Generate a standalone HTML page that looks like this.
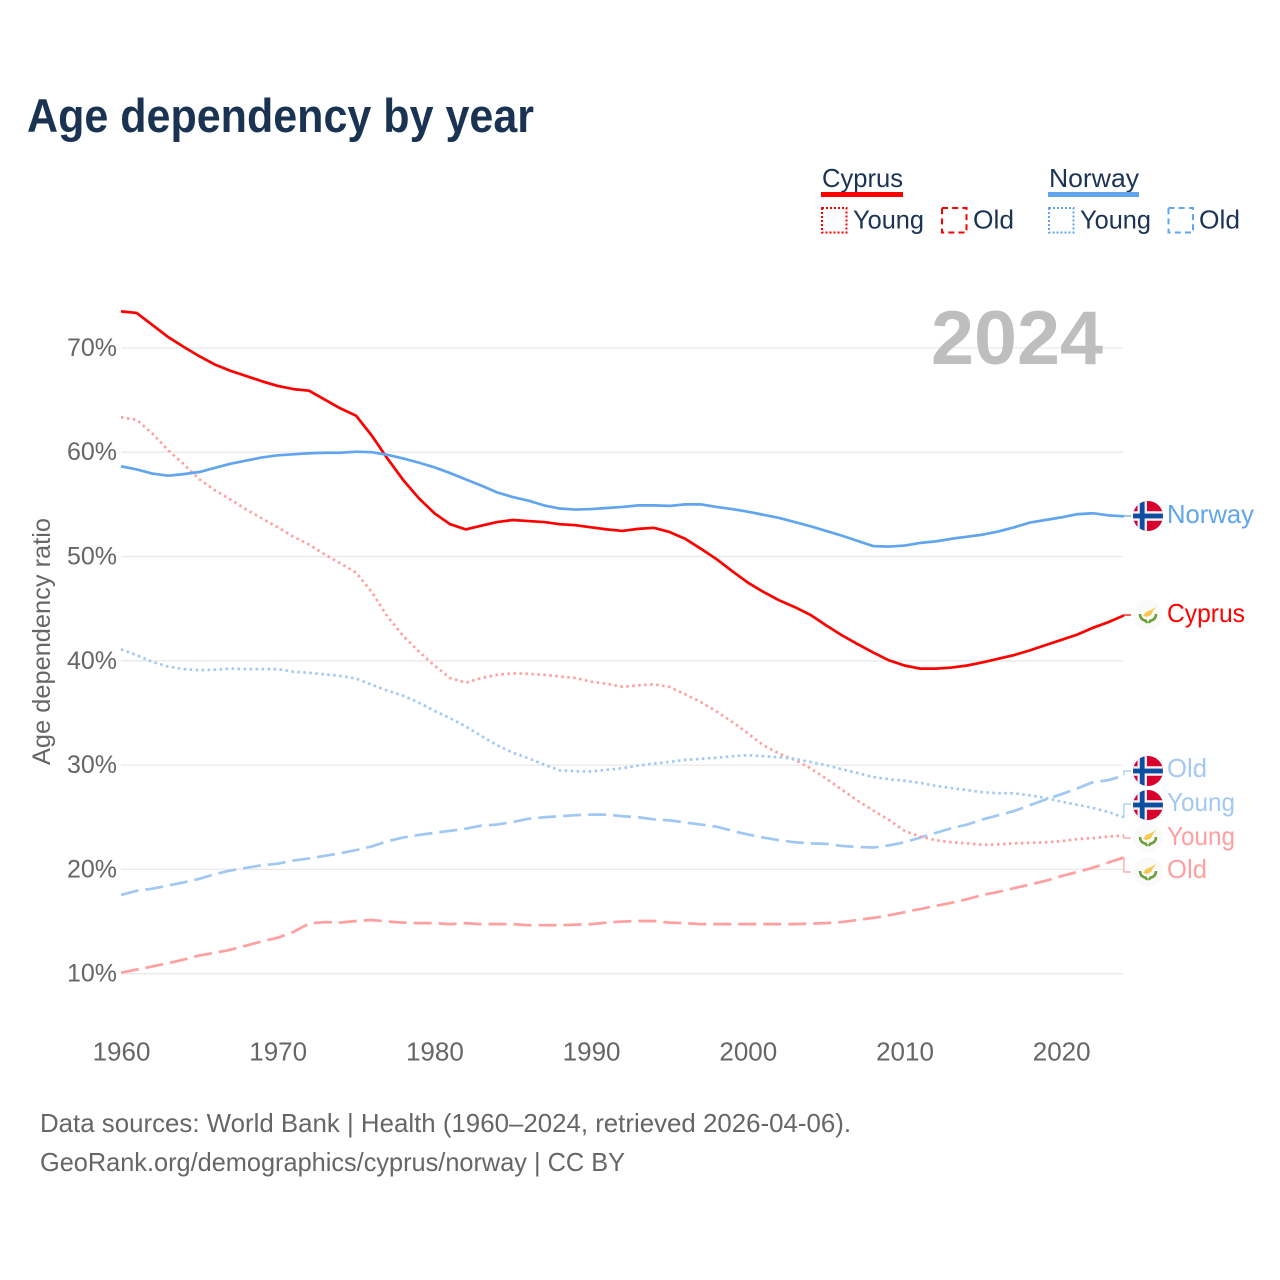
<!DOCTYPE html>
<html lang="en">
<head>
<meta charset="utf-8">
<title>Age dependency by year</title>
<style>
html,body{margin:0;padding:0;background:#fff;}
svg{display:block;font-family:"Liberation Sans",sans-serif;}
.tick{fill:#666;}
.legend-text{fill:#1b3454;font-size:26px;}
</style>
</head>
<body>
<svg id="chart" width="1280" height="1280" viewBox="0 0 1280 1280" xmlns="http://www.w3.org/2000/svg">
<defs>
<clipPath id="flag-clip"><circle cx="0" cy="0" r="15"/></clipPath>
<g id="flag-no">
<g clip-path="url(#flag-clip)">
<rect x="-15" y="-15" width="30" height="30" fill="#d8002c"/>
<rect x="-10.5" y="-15" width="9.5" height="30" fill="#f4eef0"/>
<rect x="-15" y="-4.8" width="30" height="9.6" fill="#f4eef0"/>
<rect x="-8.2" y="-15" width="4.8" height="30" fill="#0b4ea2"/>
<rect x="-15" y="-2.4" width="30" height="4.8" fill="#0b4ea2"/>
</g>
</g>
<g id="flag-cy">
<circle cx="0" cy="0" r="15" fill="#fafafa"/>
<polygon points="-5,1 -2,-3 3,-5 8,-8 5,-4 3,0 -1,2" fill="#f5c94f"/>
<path d="M-8,-1 Q-8,5 -1,6 M8,-1 Q8,5 1,6 M-1,6 L-2,8 M1,6 L2,8" fill="none" stroke="#6c9e3c" stroke-width="2.6"/>
</g>
</defs>

<text x="27" y="132" font-size="47" font-weight="700" fill="#1a3353" textLength="507" lengthAdjust="spacingAndGlyphs">Age dependency by year</text>

<g>
<text class="legend-text" x="822" y="187" textLength="81" lengthAdjust="spacingAndGlyphs">Cyprus</text>
<rect x="821" y="192" width="82" height="5" fill="#ff0000"/>
<rect x="822" y="208" width="24.5" height="24.5" fill="none" stroke="#ff0000" stroke-width="2" stroke-dasharray="2 2"/>
<text class="legend-text" x="853" y="228.5" textLength="71" lengthAdjust="spacingAndGlyphs">Young</text>
<rect x="942" y="208" width="24.5" height="24.5" fill="none" stroke="#ff0000" stroke-width="2" stroke-dasharray="6 4.2"/>
<text class="legend-text" x="973" y="228.5" textLength="41" lengthAdjust="spacingAndGlyphs">Old</text>

<text class="legend-text" x="1049" y="187" textLength="90" lengthAdjust="spacingAndGlyphs">Norway</text>
<rect x="1048" y="192" width="91" height="5" fill="#60a5ee"/>
<rect x="1049" y="208" width="24.5" height="24.5" fill="none" stroke="#60a5ee" stroke-width="2" stroke-dasharray="2 2"/>
<text class="legend-text" x="1080" y="228.5" textLength="71" lengthAdjust="spacingAndGlyphs">Young</text>
<rect x="1168.5" y="208" width="24.5" height="24.5" fill="none" stroke="#60a5ee" stroke-width="2" stroke-dasharray="6 4.2"/>
<text class="legend-text" x="1199" y="228.5" textLength="41" lengthAdjust="spacingAndGlyphs">Old</text>
</g>

<g id="grid"></g>
<g id="y-axis"></g>
<g id="x-axis"></g>

<text x="50" y="765" transform="rotate(-90 50 765)" font-size="25" fill="#666" textLength="247" lengthAdjust="spacingAndGlyphs">Age dependency ratio</text>

<text x="931" y="364" font-size="76" font-weight="700" fill="#bebebe" textLength="172" lengthAdjust="spacingAndGlyphs">2024</text>

<g id="series"></g>

<g>
<use href="#flag-no" x="1148" y="516"/>
<text x="1167" y="523" font-size="26" fill="#60a5ee" textLength="87" lengthAdjust="spacingAndGlyphs">Norway</text>
<use href="#flag-cy" x="1148" y="615"/>
<text x="1167" y="622" font-size="26" fill="#ff0000" textLength="78" lengthAdjust="spacingAndGlyphs">Cyprus</text>
<use href="#flag-no" x="1148" y="771"/>
<text x="1167" y="777" font-size="26" fill="#a3c9f2" textLength="40" lengthAdjust="spacingAndGlyphs">Old</text>
<use href="#flag-no" x="1148" y="805"/>
<text x="1167" y="811" font-size="26" fill="#a3c9f2" textLength="68" lengthAdjust="spacingAndGlyphs">Young</text>
<use href="#flag-cy" x="1148" y="838"/>
<text x="1167" y="845" font-size="26" fill="#ff9f9f" textLength="68" lengthAdjust="spacingAndGlyphs">Young</text>
<use href="#flag-cy" x="1148" y="872"/>
<text x="1167" y="878" font-size="26" fill="#ff9f9f" textLength="40" lengthAdjust="spacingAndGlyphs">Old</text>
</g>

<text x="40" y="1132" font-size="26" fill="#666" textLength="811" lengthAdjust="spacingAndGlyphs">Data sources: World Bank | Health (1960–2024, retrieved 2026-04-06).</text>
<text x="40" y="1171" font-size="26" fill="#666" textLength="585" lengthAdjust="spacingAndGlyphs">GeoRank.org/demographics/cyprus/norway | CC BY</text>

<script>
var years = [1960,1961,1962,1963,1964,1965,1966,1967,1968,1969,1970,1971,1972,1973,1974,1975,1976,1977,1978,1979,1980,1981,1982,1983,1984,1985,1986,1987,1988,1989,1990,1991,1992,1993,1994,1995,1996,1997,1998,1999,2000,2001,2002,2003,2004,2005,2006,2007,2008,2009,2010,2011,2012,2013,2014,2015,2016,2017,2018,2019,2020,2021,2022,2023,2024];
var cyprusTotal = [73.5,73.35,72.2,71.05,70.1,69.2,68.4,67.8,67.3,66.8,66.35,66.05,65.9,65.05,64.2,63.5,61.6,59.4,57.35,55.6,54.15,53.1,52.6,52.95,53.3,53.5,53.4,53.3,53.1,53.0,52.8,52.6,52.45,52.65,52.75,52.35,51.7,50.75,49.75,48.6,47.5,46.6,45.8,45.15,44.4,43.4,42.45,41.6,40.8,40.05,39.55,39.25,39.25,39.35,39.55,39.85,40.2,40.55,41.0,41.5,42.0,42.5,43.15,43.7,44.35];
var cyprusYoung = [63.35,63.1,61.8,60.2,58.85,57.4,56.35,55.45,54.5,53.65,52.8,51.9,51.15,50.2,49.35,48.45,46.6,44.25,42.4,40.9,39.55,38.35,37.9,38.35,38.65,38.8,38.75,38.65,38.5,38.35,38.0,37.8,37.5,37.65,37.75,37.5,36.8,36.05,35.15,34.15,33.05,31.9,31.1,30.5,29.7,28.7,27.65,26.6,25.65,24.75,23.7,23.15,22.8,22.6,22.5,22.35,22.4,22.5,22.55,22.6,22.7,22.9,23.0,23.15,23.25];
var cyprusOld = [10.1,10.4,10.7,11.0,11.35,11.75,12.0,12.3,12.7,13.1,13.45,14.0,14.8,14.95,14.9,15.05,15.15,15.0,14.9,14.85,14.85,14.75,14.85,14.75,14.75,14.75,14.65,14.65,14.65,14.7,14.75,14.9,15.0,15.05,15.05,14.9,14.85,14.75,14.75,14.75,14.75,14.75,14.75,14.75,14.8,14.85,14.95,15.15,15.35,15.6,15.9,16.2,16.5,16.8,17.15,17.55,17.85,18.2,18.55,18.9,19.35,19.75,20.15,20.65,21.15];
var norwayTotal = [58.65,58.35,57.95,57.75,57.9,58.1,58.5,58.9,59.2,59.5,59.7,59.8,59.9,59.95,59.95,60.05,60.0,59.75,59.4,59.0,58.55,58.0,57.4,56.8,56.15,55.7,55.35,54.9,54.6,54.5,54.55,54.65,54.75,54.9,54.9,54.85,55.0,55.0,54.75,54.55,54.3,54.0,53.7,53.3,52.9,52.45,52.0,51.5,51.0,50.95,51.05,51.3,51.45,51.7,51.9,52.1,52.4,52.8,53.25,53.5,53.75,54.05,54.15,53.95,53.85];
var norwayYoung = [41.1,40.55,39.9,39.45,39.2,39.1,39.15,39.25,39.2,39.2,39.2,38.95,38.85,38.7,38.55,38.3,37.7,37.15,36.65,36.0,35.2,34.5,33.7,32.8,31.9,31.2,30.65,30.05,29.5,29.4,29.4,29.55,29.7,29.95,30.15,30.3,30.5,30.6,30.7,30.85,30.95,30.85,30.75,30.6,30.3,30.0,29.6,29.25,28.85,28.65,28.5,28.3,28.0,27.8,27.6,27.4,27.3,27.3,27.1,26.85,26.5,26.2,25.9,25.5,25.0];
var norwayOld = [17.55,17.95,18.15,18.45,18.75,19.1,19.55,19.9,20.15,20.4,20.55,20.85,21.05,21.3,21.55,21.85,22.2,22.7,23.05,23.3,23.5,23.7,23.9,24.2,24.3,24.55,24.85,25.0,25.1,25.2,25.25,25.25,25.1,25.0,24.8,24.7,24.5,24.3,24.1,23.7,23.35,23.05,22.8,22.6,22.5,22.45,22.25,22.15,22.1,22.3,22.6,23.05,23.5,23.95,24.3,24.8,25.2,25.6,26.15,26.7,27.2,27.75,28.35,28.55,29.0];
var yTickValues = [10,20,30,40,50,60,70];
var yTickLabels = ["10%","20%","30%","40%","50%","60%","70%"];
var xTickValues = [1960,1970,1980,1990,2000,2010,2020];
var xTickLabels = ["1960","1970","1980","1990","2000","2010","2020"];

var NS = "http://www.w3.org/2000/svg";
function xScale(year){ return 121 + (year - 1960) * 15.67; }
function yScale(value){ return 973.7 - (value - 10) * 10.43; }

var gridGroup = document.getElementById("grid");
var yAxisGroup = document.getElementById("y-axis");
var xAxisGroup = document.getElementById("x-axis");
var seriesGroup = document.getElementById("series");

yTickValues.forEach(function(value, i){
  var line = document.createElementNS(NS, "line");
  
  
  line.setAttribute("x1", xScale(1960));
  line.setAttribute("x2", xScale(2024) - 0.7);
  line.setAttribute("y1", yScale(value));
  line.setAttribute("y2", yScale(value));
  line.setAttribute("stroke", "#e9e9e9");
  line.setAttribute("stroke-width", "1.3");
  gridGroup.appendChild(line);

  var label = document.createElementNS(NS, "text");
  
  
  label.setAttribute("class", "tick");
  label.setAttribute("x", 117);
  label.setAttribute("y", yScale(value) + 8);
  label.setAttribute("text-anchor", "end");
  label.setAttribute("font-size", "25");
  label.textContent = yTickLabels[i];
  yAxisGroup.appendChild(label);
});

xTickValues.forEach(function(year, i){
  var label = document.createElementNS(NS, "text");
  
  
  label.setAttribute("class", "tick");
  label.setAttribute("x", xScale(year) + 0.5);
  label.setAttribute("y", 1060.5);
  label.setAttribute("text-anchor", "middle");
  label.setAttribute("font-size", "26");
  label.textContent = xTickLabels[i];
  xAxisGroup.appendChild(label);
});

function drawSeries(name, values, color, dash, labelY){
  var d = "";
  values.forEach(function(value, i){
    d += (i ? "L" : "M") + xScale(years[i]).toFixed(2) + "," + yScale(value).toFixed(2);
  });
  var path = document.createElementNS(NS, "path");
  
  
  path.setAttribute("d", d);
  path.setAttribute("fill", "none");
  path.setAttribute("stroke", color);
  path.setAttribute("stroke-width", "2.7");
  path.setAttribute("stroke-linejoin", "round");
  if (dash) { path.setAttribute("stroke-dasharray", dash); }
  seriesGroup.appendChild(path);

  var endX = xScale(years[years.length - 1]);
  var endY = yScale(values[values.length - 1]);
  var link = document.createElementNS(NS, "path");
  
  
  link.setAttribute("d", "M" + endX + "," + endY + "V" + labelY + "H1131");
  link.setAttribute("fill", "none");
  link.setAttribute("stroke", color);
  link.setAttribute("stroke-width", "1.2");
  seriesGroup.appendChild(link);
}

drawSeries("cyprus-old", cyprusOld, "#ff9f9f", "18 7", 872);
drawSeries("norway-old", norwayOld, "#a0c8f2", "18 7", 771);
drawSeries("cyprus-young", cyprusYoung, "#ff9f9f", "2.5 3.5", 838);
drawSeries("norway-young", norwayYoung, "#a0c8f2", "2.5 3.5", 804);
drawSeries("cyprus-total", cyprusTotal, "#ff0000", "", 615);
drawSeries("norway-total", norwayTotal, "#60a5ee", "", 516);
</script>
</svg>
</body>
</html>
